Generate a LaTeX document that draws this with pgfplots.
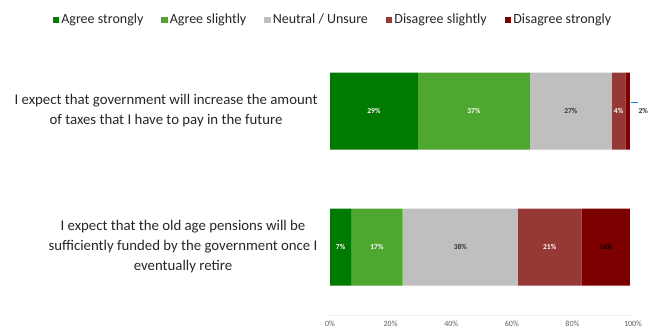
\documentclass[border=0pt]{standalone}
\usepackage{pgfplots}
\pgfplotsset{compat=1.18}
\usepackage{fontspec}
\setmainfont{Carlito}
\definecolor{agS}{RGB}{0,122,0}
\definecolor{agL}{RGB}{78,167,46}
\definecolor{neu}{RGB}{191,191,191}
\definecolor{diL}{RGB}{150,56,54}
\definecolor{diS}{RGB}{125,0,0}
\pgfplotsset{
  geom/.style={at={(330pt,-315pt)}, anchor=south west,
    scale only axis, width=303pt, height=272pt,
    xmin=0, xmax=100, ymin=-0.5, ymax=1.5, clip=false},
  lbl/.style={only marks, mark=*, mark size=0pt, mark options={draw=none,fill=none},
    point meta=explicit symbolic, nodes near coords,
    every node near coord/.append style={anchor=center, inner sep=0pt,
      font=\fontsize{7.5}{8}\selectfont\bfseries, text=#1}},
}
\begin{document}
\begin{tikzpicture}[x=1pt,y=1pt]
\path[use as bounding box] (0,0) rectangle (655,-329);
\begin{axis}[
  geom,
  xbar stacked, bar width=77pt,
  axis lines*=left,
  y axis line style={draw=none},
  x axis line style={draw=gray!12, line width=1pt},
  major tick length=0pt,
  xtick={0,20,40,60,80,100},
  xticklabels={0\%,20\%,40\%,60\%,80\%,100\%},
  xticklabel style={font=\fontsize{8}{9}\selectfont, text=gray!75!black, yshift=-2.5pt},
  ytick={0,1},
  yticklabels={{I expect that the old age pensions will be\\sufficiently funded by the government once I\\eventually retire},
               {I expect that government will increase the amount\\of taxes that I have to pay in the future}},
  yticklabel style={align=center, font=\fontsize{14.8}{20}\selectfont, text=black!85, xshift=-9pt},
  legend columns=5,
  legend style={draw=none, at={(axis description cs:0.01,1.085)}, anchor=center,
    font=\fontsize{14}{16}\selectfont, text=black!85,
    /tikz/every even column/.append style={column sep=16pt},
    inner sep=0pt},
  legend image code/.code={\fill[#1,draw=none] (0pt,-3.2pt) rectangle (6.5pt,3.2pt);},
]
\addplot[fill=agS, draw=none] coordinates {(7,0) (29,1)};
\addplot[fill=agL, draw=none] coordinates {(17,0) (37,1)};
\addplot[fill=neu, draw=none] coordinates {(38,0) (27,1)};
\addplot[fill=diL, draw=none] coordinates {(21,0) (4.5,1)};
\addplot[fill=diS, draw=none] coordinates {(16,0) (1.5,1)};
\legend{Agree strongly, Agree slightly, Neutral / Unsure, Disagree slightly, Disagree strongly}
\end{axis}
\begin{axis}[geom, hide axis]
\addplot[lbl=white] coordinates {(3.5,0) [7\%] (14.5,1) [29\%]};
\addplot[lbl=white] coordinates {(15.5,0) [17\%] (47.5,1) [37\%]};
\addplot[lbl=black!80] coordinates {(43,0) [38\%] (79.5,1) [27\%]};
\addplot[lbl=white] coordinates {(72.5,0) [21\%] (95.25,1) [4\%]};
\addplot[lbl=black] coordinates {(91,0) [16\%]};
\addplot[lbl=black!80, every node near coord/.append style={anchor=west}] coordinates {(101.8,1) [2\%]};
\draw[blue!50!cyan, line width=0.6pt] (axis cs:99.3,1.065) -- (axis cs:101.6,1.065);
\end{axis}
\end{tikzpicture}
\end{document}
